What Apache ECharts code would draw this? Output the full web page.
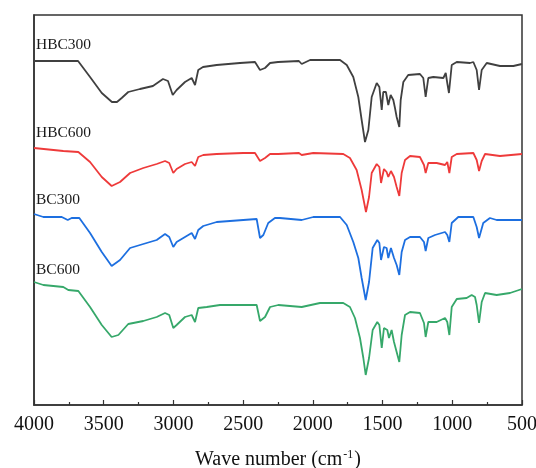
<!DOCTYPE html>
<html>
<head>
<meta charset="utf-8">
<script src="https://cdn.jsdelivr.net/npm/echarts@6/dist/echarts.min.js"></script>
<style>html,body{margin:0;padding:0;background:#fff;}#c{width:536px;height:468px;}</style>
</head>
<body>
<div id="c"></div>
<script>
// Wavenumbers (cm^-1) and offset transmittance values (arbitrary units)
var seriesNames = ['HBC300', 'HBC600', 'BC300', 'BC600'];
var xTicks = [4000, 3500, 3000, 2500, 2000, 1500, 1000, 500];

var wnHBC300 = [4000,3684,3598,3514,3441,3405,3371,3324,3240,3147,3075,3039,3005,2977,2917,2869,2845,2822,2788,2690,2523,2415,2379,2343,2307,2250,2236,2100,2080,2020,1805,1757,1710,1674,1650,1626,1602,1578,1542,1523,1506,1495,1476,1459,1442,1423,1411,1399,1380,1370,1351,1316,1232,1208,1191,1172,1136,1064,1047,1036,1024,1004,968,873,849,825,808,789,753,658,562,500];
var tHBC300 = [344,344,328,312,303,303,307,313,316,319,326,324,310,315,323,327,320,335,338,340,342,343,335,337,342,343,344,344,341,345,345,340,328,308,285,263,275,308,322,318,295,313,313,300,310,305,297,288,278,305,323,330,331,327,308,327,328,327,332,322,312,340,343,342,343,335,315,335,342,339,339,341];

var wnHBC600 = [4000,3790,3682,3598,3514,3443,3383,3311,3216,3120,3060,3030,3001,2977,2917,2869,2845,2822,2786,2690,2499,2415,2379,2343,2307,2250,2236,2100,2080,1997,1782,1734,1686,1650,1619,1597,1578,1542,1523,1511,1490,1471,1459,1440,1418,1399,1380,1363,1339,1303,1232,1203,1191,1172,1112,1052,1036,1021,1004,968,849,825,808,789,765,658,500];
var tHBC600 = [257,254,253,243,228,219,223,232,237,241,244,242,232,236,241,243,239,248,250,251,252,252,244,247,251,251,252,252,250,252,251,247,235,215,193,208,232,241,238,222,236,233,228,234,228,218,209,232,245,249,248,240,232,242,242,240,243,232,248,251,252,245,234,244,251,249,251];

var wnBC300 = [4000,3933,3801,3758,3730,3675,3598,3514,3443,3383,3311,3216,3120,3060,3030,3001,2977,2917,2869,2845,2822,2786,2690,2499,2403,2379,2355,2320,2272,2236,2080,1997,1805,1757,1710,1674,1650,1621,1597,1571,1538,1523,1511,1490,1471,1459,1440,1418,1399,1380,1363,1339,1303,1232,1203,1191,1172,1124,1052,1036,1021,1004,957,849,825,808,778,730,682,500];
var tBC300 = [191,188,188,185,187,187,172,153,139,145,157,161,165,171,168,158,163,168,172,166,175,179,183,185,186,167,170,182,187,187,185,188,188,180,163,147,127,105,123,157,165,162,145,158,157,147,157,147,140,130,153,165,168,168,163,154,167,170,173,170,163,182,188,188,178,167,182,187,185,185];

var wnBC600 = [4000,3933,3790,3754,3682,3598,3514,3443,3395,3324,3216,3120,3060,3030,3001,2977,2917,2869,2845,2822,2761,2666,2403,2379,2343,2307,2248,2236,2080,1949,1782,1734,1698,1662,1638,1621,1597,1571,1538,1523,1506,1490,1466,1454,1435,1418,1399,1380,1363,1339,1303,1232,1203,1191,1172,1112,1052,1036,1021,1004,968,897,861,837,825,808,789,765,682,586,500];
var tBC600 = [123,120,118,115,114,98,80,68,70,81,84,88,92,90,77,80,88,90,83,97,98,100,100,84,88,98,100,100,98,102,102,98,87,67,47,30,47,75,83,80,57,77,75,67,75,63,53,43,70,90,93,92,82,68,83,83,87,83,70,98,106,107,110,108,100,82,103,112,110,112,116];

var colors = ['#404040', '#ee3a3a', '#1d6fe0', '#36a86a'];
var allWn = [wnHBC300, wnHBC600, wnBC300, wnBC600];
var allT = [tHBC300, tHBC600, tBC300, tBC600];

function pairs(xs, ys) { return xs.map(function (x, i) { return [x, ys[i]]; }); }

var chart = echarts.init(document.getElementById('c'), null, { renderer: 'canvas' });
var serif = '"Liberation Serif", "Times New Roman", serif';

var series = seriesNames.map(function (n, i) {
  return {
    name: n, type: 'line', data: pairs(allWn[i], allT[i]),
    showSymbol: false, symbol: 'none', smooth: false,
    lineStyle: { color: colors[i], width: 1.8 }, z: 3
  };
});

var labelY = [44, 132, 198.5, 268.5];
var graphics = seriesNames.map(function (n, i) {
  return {
    type: 'text', left: 36, top: labelY[i] - 7,
    style: { text: n, font: '15.5px ' + serif, fill: '#1a1a1a' }
  };
});

chart.setOption({
  animation: false,
  backgroundColor: '#fff',
  grid: { left: 34, right: 14, top: 15, bottom: 63, outerBoundsMode: 'none', containLabel: false,
    show: true, borderColor: '#333', borderWidth: 1.5, backgroundColor: 'transparent' },
  xAxis: {
    type: 'value', inverse: true, min: 500, max: 4000, interval: 500,
    axisLine: { show: true, lineStyle: { color: '#333', width: 1.5 } },
    axisTick: { show: true, inside: true, length: 5, lineStyle: { color: '#333', width: 1.2 } },
    minorTick: { show: true, splitNumber: 2, length: 3, lineStyle: { color: '#333', width: 1.2 } },
    splitLine: { show: false },
    axisLabel: { fontFamily: serif, fontSize: 20, color: '#111', margin: 10,
      formatter: function (v) { return xTicks.indexOf(v) >= 0 ? String(v) : ''; } },
    name: '{a|Wave number (cm}{s|-1}{a|)}',
    nameLocation: 'middle', nameGap: 44,
    nameTextStyle: { rich: {
      a: { fontFamily: serif, fontSize: 20, color: '#111' },
      s: { fontFamily: serif, fontSize: 12, color: '#111', verticalAlign: 'top', padding: [0, 1, 10, 1] }
    } }
  },
  yAxis: {
    type: 'value', min: 0, max: 390,
    axisLine: { show: true, lineStyle: { color: '#333', width: 1.5 } },
    axisTick: { show: false }, axisLabel: { show: false }, splitLine: { show: false }
  },
  series: series,
  graphic: graphics
});
</script>
</body>
</html>
